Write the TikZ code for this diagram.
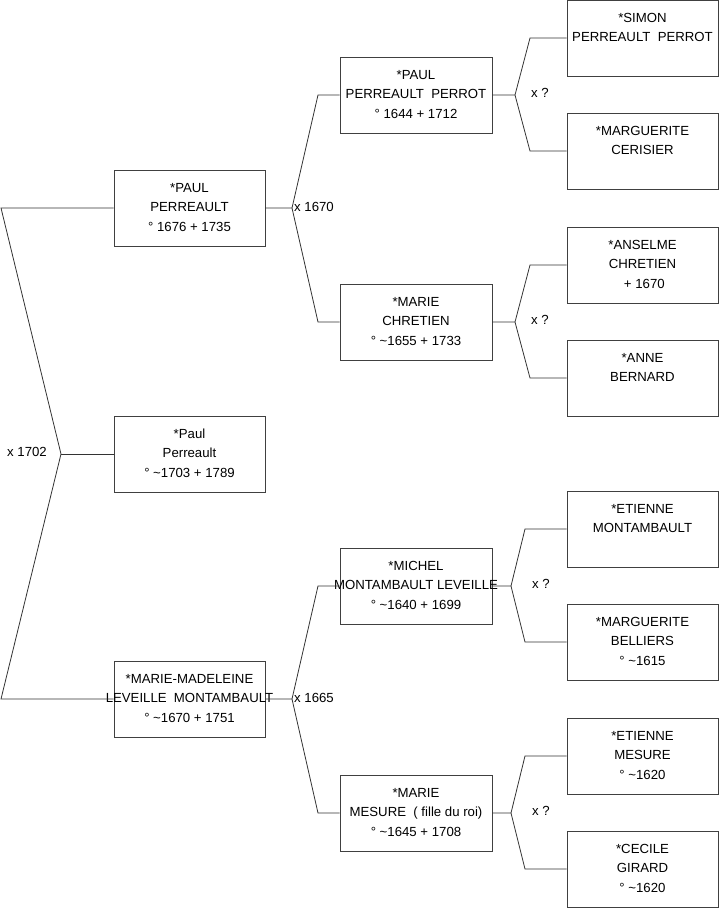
\documentclass[tikz,border=0pt]{standalone}
\usepackage{fontspec}
\setmainfont{Liberation Sans}
\newcommand{\tl}[1]{\makebox[0pt]{\strut #1}}
\begin{document}
\begin{tikzpicture}[x=1pt,y=-1pt,
  person/.style={draw=black!75, line width=0.8pt, inner sep=0pt, align=center,
    minimum height=76pt, font=\fontsize{13.2}{19.6}\selectfont},
  pa/.style={person, minimum width=151pt},
  pb/.style={person, minimum width=152pt},
  pc/.style={person, minimum width=151pt},
  link/.style={draw=black!80, line width=0.8pt},
  lab/.style={anchor=west, inner sep=0pt, font=\fontsize{13.2}{15}\selectfont}]
\useasboundingbox (0,0) rectangle (719,908);
% generation 1
\node[pa] (p1) at (189.5,208) {\tl{*PAUL}\\\tl{PERREAULT}\\\tl{° 1676 + 1735}};
\node[pa] (k1) at (189.5,454) {\tl{*Paul}\\\tl{Perreault}\\\tl{° \textasciitilde 1703 + 1789}};
\node[pa] (m1) at (189.5,699) {\tl{*MARIE-MADELEINE}\\\tl{LEVEILLE~ MONTAMBAULT}\\\tl{° \textasciitilde 1670 + 1751}};
% generation 2
\node[pb] (p2) at (416,95) {\tl{*PAUL}\\\tl{PERREAULT~ PERROT}\\\tl{° 1644 + 1712}};
\node[pb] (c2) at (416,322) {\tl{*MARIE}\\\tl{CHRETIEN}\\\tl{° \textasciitilde 1655 + 1733}};
\node[pb] (l2) at (416,586) {\tl{*MICHEL}\\\tl{MONTAMBAULT LEVEILLE}\\\tl{° \textasciitilde 1640 + 1699}};
\node[pb] (s2) at (416,813) {\tl{*MARIE}\\\tl{MESURE~ ( fille du roi)}\\\tl{° \textasciitilde 1645 + 1708}};
% generation 3
\node[pc] (g1) at (642.5,38) {\tl{*SIMON}\\\tl{PERREAULT~ PERROT}\\\tl{}};
\node[pc] (g2) at (642.5,151) {\tl{*MARGUERITE}\\\tl{CERISIER}\\\tl{}};
\node[pc] (g3) at (642.5,265) {\tl{*ANSELME}\\\tl{CHRETIEN}\\\tl{\ + 1670}};
\node[pc] (g4) at (642.5,378) {\tl{*ANNE}\\\tl{BERNARD}\\\tl{}};
\node[pc] (g5) at (642.5,529) {\tl{*ETIENNE}\\\tl{MONTAMBAULT}\\\tl{}};
\node[pc] (g6) at (642.5,642) {\tl{*MARGUERITE}\\\tl{BELLIERS}\\\tl{° \textasciitilde 1615}};
\node[pc] (g7) at (642.5,756) {\tl{*ETIENNE}\\\tl{MESURE}\\\tl{° \textasciitilde 1620}};
\node[pc] (g8) at (642.5,869) {\tl{*CECILE}\\\tl{GIRARD}\\\tl{° \textasciitilde 1620}};
% fork coordinates
\coordinate (t0) at (1,208);
\coordinate (b0) at (1,699);
\coordinate (f0) at (61,454);
\coordinate (f1) at (292,208);
\coordinate (f1u) at (318,95);
\coordinate (f1d) at (318,322);
\coordinate (f2) at (292,699);
\coordinate (f2u) at (318,586);
\coordinate (f2d) at (318,813);
\coordinate (f3) at (515,95);
\coordinate (f3u) at (530,38);
\coordinate (f3d) at (530,151);
\coordinate (f4) at (515,322);
\coordinate (f4u) at (530,265);
\coordinate (f4d) at (530,378);
\coordinate (f5) at (511,586);
\coordinate (f5u) at (525,529);
\coordinate (f5d) at (525,642);
\coordinate (f6) at (511,813);
\coordinate (f6u) at (525,756);
\coordinate (f6d) at (525,869);
% connectors
\draw[link] (p1.west) -- (t0) -- (f0) -- (b0) -- (m1.west);
\draw[link] (f0) -- (k1.west);
\draw[link] (p1.east) -- (f1) -- (f1u) -- (p2.west);
\draw[link] (f1) -- (f1d) -- (c2.west);
\draw[link] (m1.east) -- (f2) -- (f2u) -- (l2.west);
\draw[link] (f2) -- (f2d) -- (s2.west);
\draw[link] (p2.east) -- (f3) -- (f3u) -- (g1.west);
\draw[link] (f3) -- (f3d) -- (g2.west);
\draw[link] (c2.east) -- (f4) -- (f4u) -- (g3.west);
\draw[link] (f4) -- (f4d) -- (g4.west);
\draw[link] (l2.east) -- (f5) -- (f5u) -- (g5.west);
\draw[link] (f5) -- (f5d) -- (g6.west);
\draw[link] (s2.east) -- (f6) -- (f6u) -- (g7.west);
\draw[link] (f6) -- (f6d) -- (g8.west);
% marriage labels
\node[lab] (x0) at (7,452) {x 1702};
\node[lab] (x1) at (294,207) {x 1670};
\node[lab] (x2) at (294,698) {x 1665};
\node[lab] (x3) at (531,93) {x ?};
\node[lab] (x4) at (531,320) {x ?};
\node[lab] (x5) at (532,584) {x ?};
\node[lab] (x6) at (532,811) {x ?};
\end{tikzpicture}
\end{document}
